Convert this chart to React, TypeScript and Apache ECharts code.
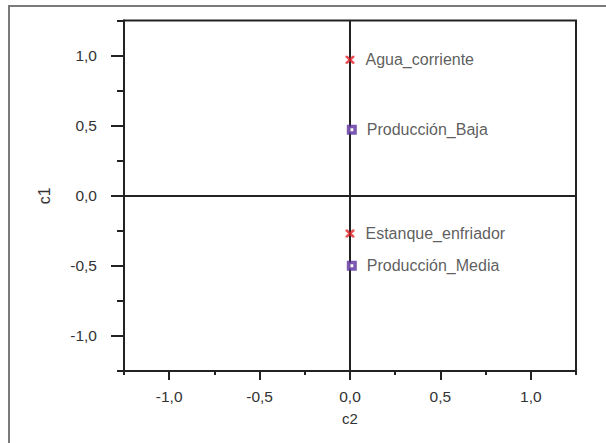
import React, { useEffect, useRef } from "react";
import * as echarts from "echarts";

const axisMin = -1.25;
const axisMax = 1.25;
const minorStep = 0.25;
const majorTicks = [-1.0, -0.5, 0.0, 0.5, 1.0];

const waterNames = ["Agua_corriente", "Estanque_enfriador"];
const waterC2 = [0.0, 0.0];
const waterC1 = [0.97, -0.27];

const prodNames = ["Producción_Baja", "Producción_Media"];
const prodC2 = [0.01, 0.01];
const prodC1 = [0.47, -0.5];

const FONT = "Liberation Sans, Arial, sans-serif";
const fmt = (v: number) => v.toFixed(1).replace(".", ",");

export default function App() {
  const ref = useRef<HTMLDivElement>(null);
  useEffect(() => {
    if (!ref.current) return;
    const chart = echarts.init(ref.current, undefined, { renderer: "svg" });
    const lineCol = "#222";
    const minorAxis = (pos: string, extra: any) => ({
      type: "value",
      min: axisMin,
      max: axisMax,
      interval: minorStep,
      position: pos,
      axisLine: { show: true, onZero: false, lineStyle: { color: lineCol, width: 2 } },
      axisTick: { show: true, inside: false, length: extra.tick, lineStyle: { color: lineCol, width: 2 } },
      axisLabel: { show: false },
      splitLine: { show: false },
      ...extra.rest,
    });
    const majorAxis = (pos: string, extra: any) => ({
      type: "value",
      min: axisMin,
      max: axisMax,
      interval: minorStep,
      position: pos,
      axisLine: { show: false, onZero: false },
      axisTick: {
        show: true,
        inside: false,
        length: extra.tick,
        customValues: majorTicks,
        lineStyle: { color: lineCol, width: 2 },
      },
      axisLabel: {
        show: true,
        customValues: majorTicks,
        formatter: (v: number) => fmt(v),
        color: "#333",
        fontSize: 15.5,
        fontFamily: FONT,
        margin: extra.margin,
      },
      splitLine: { show: false },
      ...extra.rest,
    });
    const toData = (xs: number[], ys: number[], names: string[]) =>
      xs.map((x, i) => ({ value: [x, ys[i]], name: names[i] }));
    const labelCfg = {
      show: true,
      position: "right",
      distance: 11,
      formatter: (p: any) => p.name,
      color: "#333",
      fontSize: 16,
      fontFamily: FONT,
    };
    chart.setOption({
      animation: false,
      backgroundColor: "#fff",
      graphic: [
        {
          type: "rect",
          shape: { x: 9, y: 6, width: 640, height: 480 },
          style: { fill: "none", stroke: "#7a7a7a", lineWidth: 2 },
          silent: true,
        },
      ],
      grid: {
        left: 124,
        top: 20.5,
        right: 30,
        bottom: 72,
        show: true,
        borderColor: lineCol,
        borderWidth: 2,
        backgroundColor: "transparent",
      },
      xAxis: [
        minorAxis("bottom", { tick: 4, rest: {} }),
        majorAxis("bottom", {
          tick: 9,
          margin: 17,
          rest: {
            name: "c2",
            nameLocation: "middle",
            nameGap: 40,
            nameTextStyle: { color: "#333", fontSize: 15, fontFamily: FONT },
          },
        }),
      ],
      yAxis: [
        minorAxis("left", { tick: 7, rest: {} }),
        majorAxis("left", {
          tick: 13,
          margin: 27,
          rest: {
            name: "c1",
            nameLocation: "middle",
            nameGap: 72,
            nameTextStyle: { color: "#333", fontSize: 16, fontFamily: FONT },
          },
        }),
      ],
      series: [
        {
          type: "scatter",
          xAxisIndex: 0,
          yAxisIndex: 0,
          data: toData(waterC2, waterC1, waterNames),
          symbol:
            "path://M0,0 L2.5,0 L5,3 L7.5,0 L10,0 L10,2 L7,5 L10,8 L10,10 L7.5,10 L5,7 L2.5,10 L0,10 L0,8 L3,5 L0,2 Z",
          symbolSize: [9, 8],
          itemStyle: { color: "#e41f26" },
          label: labelCfg,
          z: 5,
          markLine: {
            silent: true,
            symbol: "none",
            label: { show: false },
            lineStyle: { color: lineCol, width: 2, type: "solid" },
            data: [{ xAxis: 0 }, { yAxis: 0 }],
            z: 1,
          },
        },
        {
          type: "scatter",
          xAxisIndex: 0,
          yAxisIndex: 0,
          data: toData(prodC2, prodC1, prodNames),
          symbol: "rect",
          symbolSize: 6.5,
          itemStyle: { color: "#ffffff", borderColor: "#5a2f9c", borderWidth: 3.5 },
          label: { ...labelCfg, distance: 10 },
          z: 5,
        },
      ],
    });
    return () => chart.dispose();
  }, []);
  return (
    <div
      ref={ref}
      style={{ position: "fixed", left: 0, top: 0, width: 606, height: 443, background: "#fff" }}
    />
  );
}
